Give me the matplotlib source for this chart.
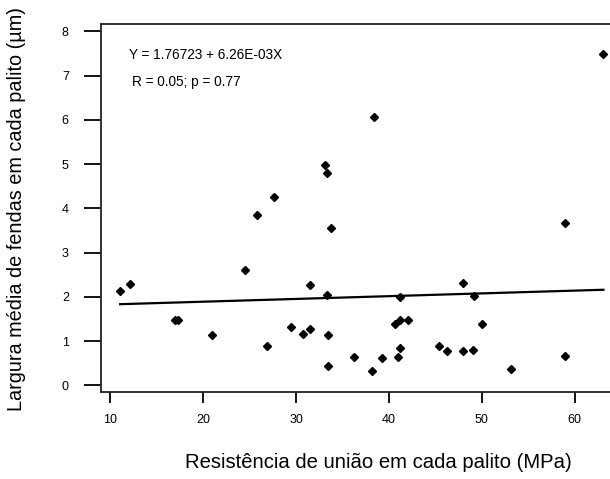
import numpy as np
import matplotlib
matplotlib.use('Agg')
import matplotlib.pyplot as plt

plt.rcParams['font.family'] = ['Liberation Sans', 'DejaVu Sans']

#%% data
bond_strength = [11.06, 12.07, 16.95, 17.24, 20.94, 24.49, 25.82, 27.62, 26.90, 29.42,
                 30.71, 31.50, 31.50, 33.11, 33.30, 33.79, 33.30, 33.47, 33.47, 36.27,
                 38.36, 63.10, 58.98, 48.02, 49.17, 41.20, 40.66, 41.20, 42.09, 50.00,
                 38.21, 39.22, 41.20, 41.01, 45.40, 46.29, 48.02, 49.03, 53.19, 58.98]
gap_width = [2.14, 2.29, 1.47, 1.49, 1.13, 2.61, 3.84, 4.25, 0.90, 1.31,
             1.17, 1.28, 2.26, 4.98, 4.80, 3.55, 2.05, 1.14, 0.45, 0.64,
             6.07, 7.49, 3.67, 2.32, 2.01, 1.99, 1.39, 1.47, 1.48, 1.39,
             0.32, 0.62, 0.84, 0.64, 0.90, 0.78, 0.78, 0.81, 0.38, 0.66]

intercept = 1.76723
slope = 6.26e-03
x_ticks = [10, 20, 30, 40, 50, 60]
y_ticks = [0, 1, 2, 3, 4, 5, 6, 7, 8]

#%% plot
W, H = 610, 479
fig = plt.figure(figsize=(W / 100, H / 100), dpi=100)
ax = fig.add_axes([100.8 / W, (H - 392) / H, (630.4 - 100.8) / W, (392 - 24.3) / H])

ax.plot(bond_strength, gap_width, linestyle='none', marker='D', markersize=4.5,
        color='black')

x_fit = np.array([min(bond_strength), max(bond_strength)])
ax.plot(x_fit, intercept + slope * x_fit, color='black', linewidth=1.6)

ax.set_xlim(8.977, 66)
ax.set_ylim(-0.147, 8.158)
ax.set_xticks(x_ticks)
ax.set_yticks(y_ticks)

for side in ['left', 'bottom', 'top']:
    ax.spines[side].set_linewidth(1.3)
    ax.spines[side].set_color('#222222')
ax.spines['right'].set_visible(False)

ax.tick_params(axis='x', direction='out', length=8, width=1.3, pad=7.5, labelsize=9)
ax.tick_params(axis='y', direction='out', length=12, width=1.3, pad=11, labelsize=9)

ax.text(12.0, 7.46, 'Y = 1.76723 + 6.26E-03X', fontsize=9.8, va='center', ha='left')
ax.text(12.34, 6.86, 'R = 0.05; p = 0.77', fontsize=9.8, va='center', ha='left')

fig.text(378.5 / W, 1 - 462 / H, 'Resistência de união em cada palito (MPa)',
         fontsize=14.6, ha='center', va='center')
fig.text(17 / W, 1 - 209 / H, 'Largura média de fendas em cada palito (µm)',
         fontsize=14.3, ha='center', va='center', rotation=90)

plt.savefig('out.png', dpi=100)
